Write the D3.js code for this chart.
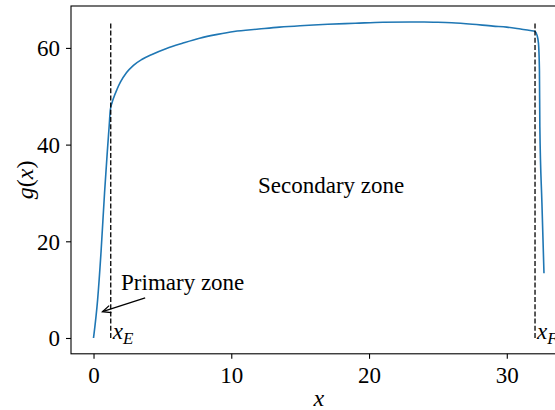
<!DOCTYPE html>
<html>
<head>
<meta charset="utf-8">
<script src="https://cdn.jsdelivr.net/npm/d3@7"></script>
<style>
  body { margin: 0; background: #fff; }
  svg { display: block; }
  text { font-family: "Liberation Serif", "DejaVu Serif", serif; fill: #000; }
</style>
</head>
<body>
<div id="chart"></div>
<script>
// curve g(x)
const xs = [0, 0.3, 0.55, 0.8, 1.0, 1.14, 1.22, 1.35, 1.45, 1.7, 1.95, 2.4, 2.9, 3.5, 4.2, 5.3, 6.5, 7.7, 9, 10.2, 12, 13.5, 15, 17, 19, 21, 23, 24, 25, 26, 27.5, 29, 30, 31, 31.7, 32.05, 32.2, 32.3, 32.37, 32.4, 32.55, 32.7];
const gs = [0, 8, 18, 30, 38.5, 44, 47.2, 48.7, 49.6, 51.4, 52.9, 54.9, 56.4, 57.6, 58.6, 59.9, 61.0, 62, 62.8, 63.4, 63.9, 64.3, 64.6, 64.9, 65.1, 65.3, 65.35, 65.35, 65.3, 65.2, 64.9, 64.5, 64.3, 63.9, 63.6, 63.4, 62.6, 61, 55.4, 43.7, 28, 13.4];

const xE = 1.25, xF = 32.05, dashTop = 65.4;
const xTicks = [0, 10, 20, 30];
const yTicks = [0, 20, 40, 60];

const width = 555, height = 410;
const margin = { left: 71, top: 6 };
const plotW = 495.5, plotH = 347.8;

const svg = d3.select("#chart").append("svg")
  .attr("width", width).attr("height", height);

// matplotlib-like 5% margins
const xExt = d3.extent(xs), yExt = [0, dashTop];
const xPad = (xExt[1] - xExt[0]) * 0.05, yPad = (yExt[1] - yExt[0]) * 0.05;

const x = d3.scaleLinear()
  .domain([xExt[0] - xPad, xExt[1] + xPad])
  .range([margin.left, margin.left + plotW]);
const y = d3.scaleLinear()
  .domain([yExt[0] - yPad, yExt[1] + yPad])
  .range([margin.top + plotH, margin.top]);

// axes
const xAxis = svg.append("g")
  .attr("transform", `translate(0,${margin.top + plotH})`)
  .call(d3.axisBottom(x).tickValues(xTicks).tickSize(5).tickPadding(4));
const yAxis = svg.append("g")
  .attr("transform", `translate(${margin.left},0)`)
  .call(d3.axisLeft(y).tickValues(yTicks).tickSize(5).tickPadding(6));

[xAxis, yAxis].forEach(a => {
  a.selectAll("path.domain").remove();
  a.selectAll("line").attr("stroke", "#000").attr("stroke-width", 1.1);
  a.selectAll("text").style("font-size", "23px")
    .style("font-family", "'Liberation Serif', serif");
});
xAxis.selectAll("text").attr("dy", "0.9em");
yAxis.selectAll("text").attr("dy", "0.34em");

// frame
svg.append("rect")
  .attr("x", margin.left).attr("y", margin.top)
  .attr("width", plotW).attr("height", plotH)
  .attr("fill", "none").attr("stroke", "#000").attr("stroke-width", 1.1);

// curve
const line = d3.line().x((d, i) => x(xs[i])).y(d => y(d)).curve(d3.curveMonotoneX);
svg.append("path")
  .datum(gs)
  .attr("d", line)
  .attr("fill", "none")
  .attr("stroke", "#1f77b4")
  .attr("stroke-width", 1.6);

// dashed markers
[xE, xF].forEach(v => {
  svg.append("line")
    .attr("x1", x(v)).attr("x2", x(v))
    .attr("y1", y(0)).attr("y2", y(dashTop))
    .attr("stroke", "#000").attr("stroke-width", 1.3)
    .attr("stroke-dasharray", "5,2.2");
});

// labels next to dashed lines
function subLabel(xv, sub) {
  const t = svg.append("text")
    .attr("x", x(xv + 0.15)).attr("y", y(-0.2))
    .style("font-size", "23px");
  t.append("tspan").style("font-style", "italic").text("x");
  t.append("tspan").attr("dy", 5).style("font-size", "17px")
    .style("font-style", "italic").text(sub);
}
subLabel(xE, "E");
subLabel(xF, "F");

// zone annotations
svg.append("text")
  .attr("x", x(17.25)).attr("y", y(29.9))
  .attr("text-anchor", "middle")
  .style("font-size", "23px")
  .text("Secondary zone");

svg.append("text")
  .attr("x", x(2.0)).attr("y", y(9.9))
  .style("font-size", "23px")
  .text("Primary zone");

// arrow
const ax0 = x(3.75), ay0 = y(8.3), ax1 = x(0.65), ay1 = y(5.45);
svg.append("line")
  .attr("x1", ax0).attr("y1", ay0).attr("x2", ax1).attr("y2", ay1)
  .attr("stroke", "#000").attr("stroke-width", 1.3);
const ang = Math.atan2(ay1 - ay0, ax1 - ax0);
const hl = 9, hw = 0.42;
svg.append("path")
  .attr("d", `M${ax1 - hl * Math.cos(ang - hw)},${ay1 - hl * Math.sin(ang - hw)} L${ax1},${ay1} L${ax1 - hl * Math.cos(ang + hw)},${ay1 - hl * Math.sin(ang + hw)}`)
  .attr("fill", "none").attr("stroke", "#000").attr("stroke-width", 1.3);

// axis titles
svg.append("text")
  .attr("x", margin.left + plotW / 2).attr("y", 406)
  .attr("text-anchor", "middle")
  .style("font-size", "24px").style("font-style", "italic")
  .text("x");

const yl = svg.append("text")
  .attr("transform", `translate(33,${margin.top + plotH / 2}) rotate(-90)`)
  .attr("text-anchor", "middle")
  .style("font-size", "24px");
yl.append("tspan").style("font-style", "italic").text("g");
yl.append("tspan").text("(");
yl.append("tspan").style("font-style", "italic").text("x");
yl.append("tspan").text(")");
</script>
</body>
</html>
